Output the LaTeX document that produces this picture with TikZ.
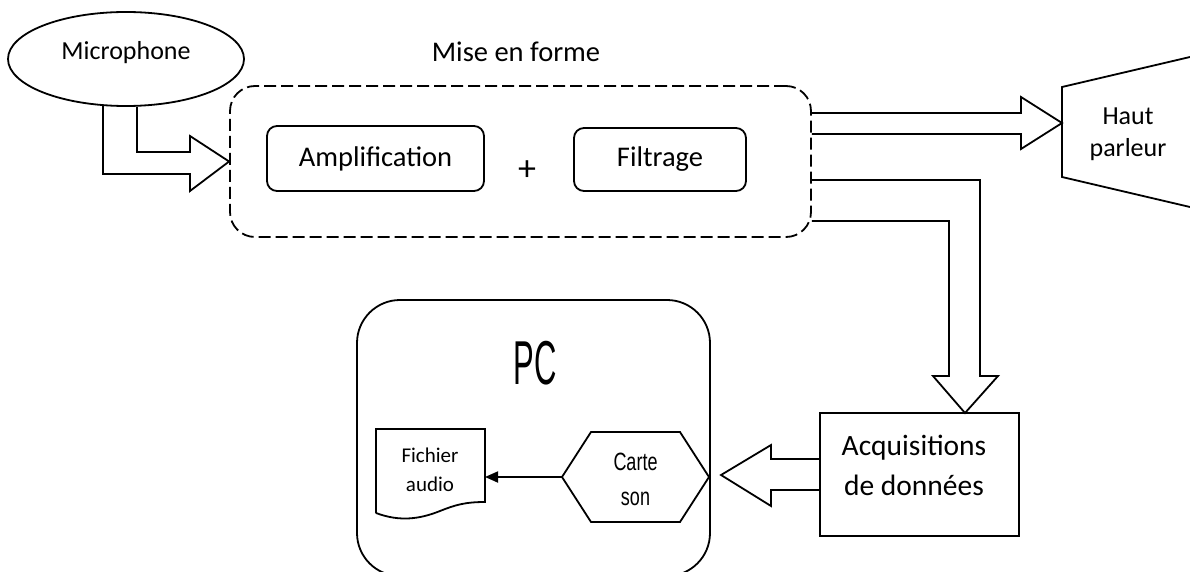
\documentclass[tikz,border=0pt]{standalone}
\usepackage{fontspec}
\setmainfont{Carlito}
\newfontfamily\condfont{Liberation Sans}
\usetikzlibrary{shapes.geometric,arrows.meta,calc}
\begin{document}
\begin{tikzpicture}[x=1pt,y=-1pt,line width=1.8pt,line join=miter,
  rbox/.style={draw,rounded corners=10pt,inner sep=0pt},
  blockarrow/.style={draw,line width=1.8pt,line join=miter},
  f26/.style={font=\fontsize{26}{32}\selectfont},
  f28/.style={font=\fontsize{28.5}{34}\selectfont},
  f29/.style={font=\fontsize{29.5}{40}\selectfont},
  f21/.style={font=\fontsize{21}{29}\selectfont},
  cond/.style={font=\condfont\fontsize{25}{35}\selectfont}]
\useasboundingbox (0,0) rectangle (1190,572);

% Microphone
\node[draw,ellipse,minimum width=236pt,minimum height=94pt,inner sep=0pt] (mic) at (126,59) {};
\node[f26] (mictxt) at (126,53) {Microphone};

% Mise en forme
\node[draw,dashed,dash pattern=on 12pt off 5pt,rounded corners=25pt,minimum width=581pt,minimum height=151pt,inner sep=0pt] (mf) at (520.5,161.5) {};
\node[f28] (mftxt) at (516,52) {Mise en forme};
\node[rbox,f28,minimum width=217pt,minimum height=65pt] (amp) at (375.5,158.5) {Amplification};
\node[rbox,f28,minimum width=172pt,minimum height=63pt] (filt) at (660,159.5) {Filtrage};
\node[font=\fontsize{36}{40}\selectfont] (plus) at (527,171) {+};

% Microphone -> Mise en forme block arrow
\coordinate (m1) at ($(mic.south)+(-23,-1)$);
\coordinate (m2) at ($(mic.south)+(11,0)$);
\draw[blockarrow] (m1) -- (m1 |- 0,174) -- (190,174) -- (190,191) -- (mf.west) -- (190,136) -- (190,152) -- (m2 |- 0,152) -- (m2);

% Haut parleur
\coordinate (hptop) at (1062,87);
\coordinate (hpbot) at (1062,177);
\draw (1190,57) -- (hptop) -- (hpbot) -- (1190,207);
\node[f26,align=center] (hp) at (1128,134) {Haut\\parleur};
\coordinate (hptip) at (1062,123);
\draw[blockarrow] (mf.east |- 0,113) -- (1021,113) -- (1021,97) -- (hptip) -- (1021,149) -- (1021,134) -- (mf.east |- 0,134);

% Acquisitions
\node[draw,minimum width=199pt,minimum height=123pt,inner sep=0pt] (acq) at (919.5,474.5) {};
\node[f29,align=center] (acqtxt) at (914,465) {Acquisitions\\de données};
\coordinate (acqtip) at (965,413);
\draw[blockarrow] (mf.east |- 0,180) -- (980,180) -- (980,376) -- (998,376) -- (acqtip) -- (933,376) -- (949,376) -- (949,221) -- (mf.east |- 0,221);

% PC
\node[draw,rounded corners=43pt,minimum width=353pt,minimum height=276pt,inner sep=0pt] (pc) at (533.5,438) {};
\node[font=\condfont\fontsize{62}{64}\selectfont] (pctxt) at (535,363) {\scalebox{0.5}[1]{PC}};

% Acquisitions -> PC block arrow
\coordinate (pctip) at (721,475);
\draw[blockarrow] (acq.west |- 0,459) -- (771,459) -- (771,445) -- (pctip) -- (771,506) -- (771,490) -- (acq.west |- 0,490);

% Carte son hexagon
\node[cond,align=center,inner sep=0pt] (cs) at (635.5,479) {\scalebox{0.72}[1]{Carte}\\\scalebox{0.72}[1]{son}};
\coordinate (csw) at (562,477);
\draw (csw) -- (591,432) -- (680,432) -- (709,477) -- (680,522) -- (591,522) -- cycle;

% Fichier audio document
\draw (376,513) -- (376,429) -- (485,429) -- (485,502)
  .. controls (465,502) and (455,505) .. (440,511)
  .. controls (420,519) and (400,522) .. (376,513);
\node[f21,align=center] (doc) at (430,469.5) {Fichier\\audio};
\coordinate (docE) at (485,477);
\draw[-{Triangle[length=13pt,width=11pt]},line width=1.8pt] (csw) -- (docE);
\end{tikzpicture}
\end{document}
